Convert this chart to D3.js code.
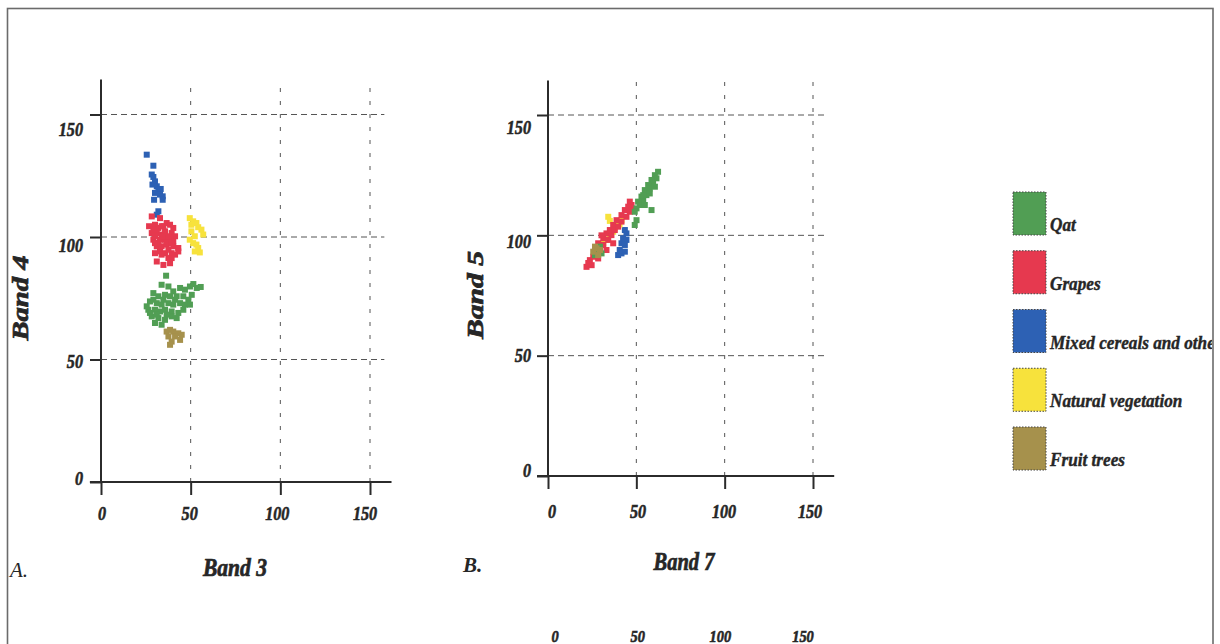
<!DOCTYPE html>
<html>
<head>
<meta charset="utf-8">
<script src="https://cdn.jsdelivr.net/npm/d3@7/dist/d3.min.js"></script>
<style>
    html, body { margin: 0; padding: 0; background: #fff; }
    svg { display: block; }
    text { font-family: 'Liberation Serif', 'Times New Roman', serif; fill: #262626; }
</style>
</head>
<body>
<div id="chart"></div>
<script>
const categories = ['Qat', 'Grapes', 'Mixed cereals and other', 'Natural vegetation', 'Fruit trees'];
const tickValues = [0, 50, 100, 150];
const gridValues = [50, 100, 150];

// panel A: Band 3 (x) against Band 4 (y)
const qatA = [[36.3,84.2],[33.8,80.5],[37.6,79.8],[40.3,77.8],[44.1,79.2],[46.8,78.5],[49.6,79.8],[53.4,79.2],
    [50.6,76.4],[29.2,77.1],[32.0,75.8],[35.7,76.4],[38.5,75.8],[42.2,75.8],[45.9,75.8],[48.7,74.4],[49.6,72.4],
    [27.3,73.7],[31.1,73.0],[33.8,72.4],[37.6,73.0],[40.3,72.4],[44.1,73.0],[46.8,72.4],[26.4,70.3],[30.1,70.3],
    [32.9,69.6],[35.7,70.3],[39.4,69.6],[43.1,69.0],[45.9,70.3],[28.3,67.6],[32.0,66.9],[35.7,66.2],[39.4,67.6],
    [42.2,66.9],[30.1,64.9],[33.8,64.2],[25.5,71.7],[36.6,68.3],[29.2,74.4],[31.1,68.3],[34.8,74.4],[27.3,69.0],
    [41.3,74.4],[55.6,79.6],[51.5,80.8]];
const grapesA = [[28.3,108.4],[32.9,107.7],[26.8,104.4],[30.1,105.0],[32.0,103.7],[33.8,104.4],[36.6,105.7],
    [38.5,105.0],[40.3,103.7],[28.3,101.6],[31.1,101.6],[33.8,101.0],[35.7,102.3],[39.4,101.6],[41.3,100.3],
    [29.2,98.9],[32.9,98.9],[35.7,98.9],[38.5,99.6],[40.3,98.2],[31.1,96.2],[33.8,96.2],[36.6,96.9],[40.3,96.2],
    [43.1,95.5],[30.1,93.4],[32.9,94.1],[35.7,93.4],[39.4,93.4],[41.3,92.8],[31.1,90.0],[34.8,88.6],[39.4,91.4],
    [38.5,89.3],[43.1,94.1],[37.6,94.8],[32.0,97.5],[34.8,104.4],[29.2,103.0],[30.1,100.3],[34.8,100.3],
    [37.6,100.3],[36.6,97.5],[30.1,97.5],[39.4,97.5],[33.8,92.8],[37.6,91.4]];
const mixedA = [[25.5,133.6],[29.2,129.1],[28.3,125.5],[29.2,124.5],[30.1,122.7],[28.7,121.4],[31.1,120.7],
    [32.0,119.3],[33.3,119.6],[30.1,118.0],[32.9,117.3],[34.4,116.6],[29.6,115.2],[34.4,115.2],[32.0,110.5],
    [31.1,109.1]];
const naturalA = [[49.5,107.7],[51.4,106.4],[53.2,105.7],[54.2,104.0],[56.0,103.0],[57.0,101.0],[50.4,102.3],
    [52.3,100.3],[49.5,98.9],[51.4,97.5],[53.2,96.9],[54.2,95.5],[52.3,94.1],[55.1,93.7],[50.4,105.0]];
const fruitA = [[36.6,61.4],[38.5,62.1],[40.3,61.4],[43.1,60.7],[45.0,60.1],[37.6,59.4],[41.3,59.4],[39.4,57.3],
    [38.5,56.0],[44.1,58.0]];

// panel B: Band 7 (x) against Band 5 (y)
const qatB = [[62.3,126.4],[60.5,125.0],[61.4,123.7],[58.6,123.0],[59.5,121.6],[56.7,120.9],[57.6,119.5],
    [54.8,118.8],[55.7,116.7],[52.9,116.1],[53.9,114.7],[51.0,114.0],[52.0,112.6],[50.1,111.2],[49.1,109.8],
    [54.8,112.6],[57.6,117.4],[60.5,120.2],[53.9,116.7],[58.6,110.5],[50.1,106.3],[49.1,104.3],[29.4,95.3],
    [27.5,93.9],[30.3,92.5],[26.6,91.8]];
const grapesB = [[21.8,86.9],[24.7,87.6],[23.7,89.7],[25.6,91.1],[28.4,90.4],[26.6,93.9],[29.4,94.6],[28.4,96.7],
    [31.3,96.0],[31.3,98.8],[34.1,98.1],[33.1,100.8],[35.9,100.1],[35.0,102.2],[37.8,102.2],[36.9,104.3],
    [39.7,103.6],[38.8,106.3],[41.6,105.7],[41.6,108.4],[44.4,107.7],[43.5,110.5],[46.3,109.8],[47.3,112.6],
    [48.2,110.5],[45.4,111.9],[46.3,114.0],[33.1,93.9],[36.9,96.7],[22.8,88.5],[30.3,100.0]];
const mixedB = [[43.5,102.2],[44.4,100.8],[42.5,98.8],[44.4,98.1],[41.6,96.7],[43.5,96.0],[39.7,91.8],[41.6,92.5],
    [43.5,93.2],[40.6,93.9]];
const naturalB = [[34.1,107.7],[35.0,106.0],[39.7,105.7],[41.6,106.3],[37.8,102.9],[36.9,101.5],[35.0,100.1],
    [33.1,98.1],[31.3,96.7],[40.5,104.5]];
const fruitB = [[25.6,93.2],[27.5,94.6],[29.4,93.9],[26.6,95.3],[28.4,91.8]];

const seriesA = [qatA, grapesA, mixedA, naturalA, fruitA];
const seriesB = [qatB, grapesB, mixedB, naturalB, fruitB];

const width = 1220;
const height = 644;
const colors = ['#519e54', '#e6394f', '#2d61b4', '#f7e23c', '#a6914c'];
const drawOrder = [2, 3, 1, 0, 4];
const pointSize = 6;

const panels = [
    {
        series: seriesA, xTitle: 'Band 3', yTitle: 'Band 4', tag: 'A.', tagWeight: 'normal',
        xRange: [101, 370], yRange: [482, 114.5],
        xLabelRange: [102, 365], xLabelY: 520,
        yLabelRange: [478, 129], yLabelX: 83,
        xTitlePos: [235, 576], xTitleLen: 64,
        yTitlePos: [28, 298], yTitleLen: 85,
        tagPos: [10, 577]
    },
    {
        series: seriesB, xTitle: 'Band 7', yTitle: 'Band 5', tag: 'B.', tagWeight: 'bold',
        xRange: [548, 813], yRange: [476, 115],
        xLabelRange: [552, 810], xLabelY: 517.5,
        yLabelRange: [470, 127], yLabelX: 531,
        xTitlePos: [684, 570], xTitleLen: 61,
        yTitlePos: [483, 295], yTitleLen: 88,
        tagPos: [463, 572]
    }
];

const svg = d3.select('#chart')
    .append('svg')
    .attr('width', width)
    .attr('height', height);

svg.append('defs')
    .append('clipPath')
    .attr('id', 'frameClip')
    .append('rect')
    .attr('x', 0).attr('y', 0)
    .attr('width', 1212).attr('height', height);

// page frame, runs off the bottom
svg.append('rect')
    .attr('x', 7.5).attr('y', 8.5)
    .attr('width', 1205.5).attr('height', height + 20)
    .attr('fill', 'none')
    .attr('stroke', '#6b6b6b')
    .attr('stroke-width', 1.6);

// heavy condensed italic, like the scanned figure
function label(g, text, x, y, size, sx, anchor, weight) {
    return g.append('text')
        .attr('transform', 'translate(' + x + ',' + y + ') scale(' + sx + ',1)')
        .attr('text-anchor', anchor)
        .style('font-size', size + 'px')
        .style('font-style', 'italic')
        .style('font-weight', weight || 'bold')
        .style('stroke', '#262626')
        .style('stroke-width', 0.6)
        .text(text);
}

panels.forEach(p => drawPanel(p));
drawLegend();

// tick labels of the next figure, cut by the bottom edge
const bottomLabel = d3.scaleLinear().domain([0, 150]).range([555, 803]);
tickValues.forEach(v => label(svg, v, bottomLabel(v), 642, 17, 0.85, 'middle'));

function drawPanel(p) {
    let g = svg.append('g');
    let x = d3.scaleLinear().domain([0, 150]).range(p.xRange);
    let y = d3.scaleLinear().domain([0, 150]).range(p.yRange);

    // dashed grid
    g.selectAll('line.hgrid')
        .data(gridValues)
        .enter()
        .append('line')
        .attr('class', 'hgrid')
        .attr('x1', x(0)).attr('x2', x(158))
        .attr('y1', d => y(d)).attr('y2', d => y(d))
        .attr('stroke', '#555')
        .attr('stroke-width', 1)
        .attr('stroke-dasharray', '6,4');

    g.selectAll('line.vgrid')
        .data(gridValues)
        .enter()
        .append('line')
        .attr('class', 'vgrid')
        .attr('x1', d => x(d)).attr('x2', d => x(d))
        .attr('y1', y(0)).attr('y2', y(164))
        .attr('stroke', '#555')
        .attr('stroke-width', 1)
        .attr('stroke-dasharray', '4,9');

    // axes: ticks only, own longer domain lines
    let axisX = g.append('g')
        .attr('transform', 'translate(0,' + y(0) + ')')
        .call(d3.axisBottom(x).tickValues(tickValues).tickSize(13).tickSizeOuter(0).tickFormat(''));
    let axisY = g.append('g')
        .attr('transform', 'translate(' + x(0) + ',0)')
        .call(d3.axisLeft(y).tickValues(tickValues).tickSize(11).tickSizeOuter(0).tickFormat(''));
    [axisX, axisY].forEach(a => {
        a.select('.domain').remove();
        a.selectAll('line').attr('stroke', '#2b2b2b').attr('stroke-width', 2);
    });

    g.append('line')
        .attr('x1', x(-6.2)).attr('x2', x(162))
        .attr('y1', y(0)).attr('y2', y(0))
        .attr('stroke', '#2b2b2b').attr('stroke-width', 2);
    g.append('line')
        .attr('x1', x(0)).attr('x2', x(0))
        .attr('y1', y(0)).attr('y2', y(164.3))
        .attr('stroke', '#2b2b2b').attr('stroke-width', 2);

    // tick labels
    let xl = d3.scaleLinear().domain([0, 150]).range(p.xLabelRange);
    let yl = d3.scaleLinear().domain([0, 150]).range(p.yLabelRange);
    tickValues.forEach(v => {
        label(g, v, xl(v), p.xLabelY, 19, 0.85, 'middle');
        label(g, v, p.yLabelX, yl(v) + 6.5, 19, 0.85, 'end');
    });

    // points
    drawOrder.forEach(ci => {
        g.append('g')
            .selectAll('rect')
            .data(p.series[ci])
            .enter()
            .append('rect')
            .attr('x', d => x(d[0]) - pointSize / 2)
            .attr('y', d => y(d[1]) - pointSize / 2)
            .attr('width', pointSize)
            .attr('height', pointSize)
            .attr('fill', colors[ci]);
    });

    // titles
    g.append('text')
        .attr('x', p.xTitlePos[0]).attr('y', p.xTitlePos[1])
        .attr('text-anchor', 'middle')
        .attr('textLength', p.xTitleLen)
        .attr('lengthAdjust', 'spacingAndGlyphs')
        .style('font-size', '25px').style('font-weight', 'bold').style('font-style', 'italic')
        .style('stroke', '#262626').style('stroke-width', 0.7)
        .text(p.xTitle);
    g.append('text')
        .attr('transform', 'translate(' + p.yTitlePos[0] + ',' + p.yTitlePos[1] + ') rotate(-90)')
        .attr('text-anchor', 'middle')
        .attr('textLength', p.yTitleLen)
        .attr('lengthAdjust', 'spacingAndGlyphs')
        .style('font-size', '23px').style('font-weight', 'bold').style('font-style', 'italic')
        .style('stroke', '#262626').style('stroke-width', 0.7)
        .text(p.yTitle);
    g.append('text')
        .attr('x', p.tagPos[0]).attr('y', p.tagPos[1])
        .style('font-size', '21px').style('font-weight', p.tagWeight).style('font-style', 'italic')
        .text(p.tag);
}

function drawLegend() {
    let legend = svg.append('g').attr('clip-path', 'url(#frameClip)');
    let rowY = d3.scaleLinear().domain([0, categories.length - 1]).range([192, 427]);

    let rows = legend.selectAll('g.row')
        .data(categories)
        .enter()
        .append('g')
        .attr('class', 'row')
        .attr('transform', (d, i) => 'translate(1013,' + rowY(i) + ')');

    rows.append('rect')
        .attr('width', 33)
        .attr('height', 43)
        .attr('fill', (d, i) => colors[i])
        .attr('stroke', '#444')
        .attr('stroke-width', 1)
        .attr('stroke-dasharray', '1.5,1.5');

    rows.each(function (d) {
        label(d3.select(this), d, 37, 39, 18.5, 0.93, 'start')
            .style('stroke-width', 0.4);
    });
}
</script>
</body>
</html>
